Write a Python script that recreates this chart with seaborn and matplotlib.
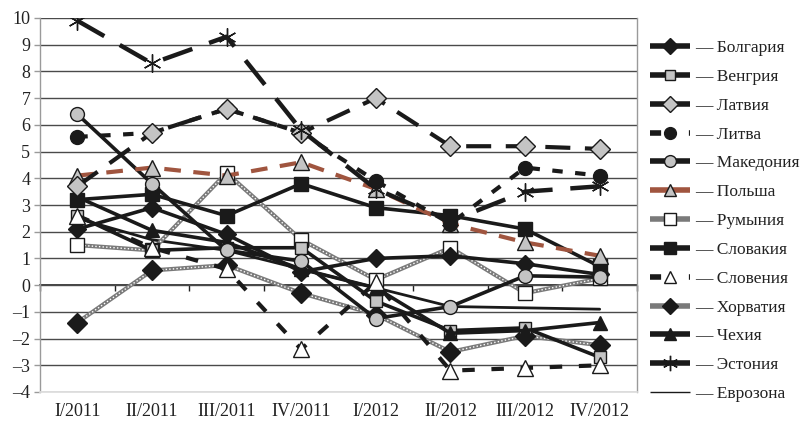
import matplotlib
matplotlib.use("Agg")
import matplotlib.pyplot as plt
import seaborn as sns
import pandas as pd
from matplotlib.lines import Line2D
from matplotlib.legend_handler import HandlerLine2D
from matplotlib.ticker import FuncFormatter

quarters = ["I/2011", "II/2011", "III/2011", "IV/2011", "I/2012", "II/2012", "III/2012", "IV/2012"]

bulgaria  = [2.1, 2.9, 1.9, 0.5, 1.0, 1.1, 0.8, 0.4]
hungary   = [2.6, 1.3, 1.4, 1.4, -0.6, -1.7, -1.6, -2.7]
latvia    = [3.7, 5.7, 6.6, 5.7, 7.0, 5.2, 5.2, 5.1]
lithuania = [5.55, 5.7, 6.6, 5.7, 3.9, 2.3, 4.4, 4.1]
macedonia = [6.4, 3.8, 1.3, 0.9, -1.25, -0.8, 0.35, 0.3]
poland    = [4.1, 4.4, 4.1, 4.6, 3.6, 2.3, 1.6, 1.1]
romania   = [1.5, 1.3, 4.2, 1.7, 0.2, 1.4, -0.3, 0.25]
slovakia  = [3.2, 3.4, 2.6, 3.8, 2.9, 2.6, 2.1, 0.7]
slovenia  = [2.6, 1.4, 0.6, -2.4, 0.1, -3.2, -3.1, -3.0]
croatia   = [-1.4, 0.55, 0.75, -0.3, -1.1, -2.5, -1.9, -2.25]
czech     = [3.3, 2.05, 1.6, 0.6, -0.1, -1.8, -1.7, -1.4]
estonia   = [9.9, 8.3, 9.3, 5.8, 3.6, 2.4, 3.5, 3.7]
eurozone  = [2.5, 1.7, 1.3, 0.6, -0.1, -0.8, -0.85, -0.9]

countries = ["Болгария", "Венгрия", "Латвия", "Литва", "Македония", "Польша", "Румыния",
             "Словакия", "Словения", "Хорватия", "Чехия", "Эстония", "Еврозона"]
values = [bulgaria, hungary, latvia, lithuania, macedonia, poland, romania,
          slovakia, slovenia, croatia, czech, estonia, eurozone]

BLK = "#1a1a1a"
GRY = "#c4c4c4"
BROWN = "#a0553f"
HATCH = "#7a7a7a"

styles = {
    "Болгария":  dict(color=BLK, lw=2.6, ls="-", marker="D", ms=9, mfc=BLK, hatch=False),
    "Венгрия":   dict(color=BLK, lw=2.6, ls="-", marker="s", ms=9, mfc=GRY, hatch=False),
    "Латвия":    dict(color=BLK, lw=3.0, ls=(0, (6, 3.5)), marker="D", ms=10, mfc=GRY, hatch=False),
    "Литва":     dict(color=BLK, lw=3.0, ls=(0, (2.5, 3)), marker="o", ms=10, mfc=BLK, hatch=False),
    "Македония": dict(color=BLK, lw=2.6, ls="-", marker="o", ms=10, mfc=GRY, hatch=False),
    "Польша":    dict(color=BROWN, lw=3.0, ls=(0, (4, 3)), marker="^", ms=11, mfc=GRY, hatch=False),
    "Румыния":   dict(color=HATCH, lw=3.0, ls="-", marker="s", ms=10, mfc="white", hatch=True),
    "Словакия":  dict(color=BLK, lw=2.6, ls="-", marker="s", ms=10, mfc=BLK, hatch=False),
    "Словения":  dict(color=BLK, lw=3.0, ls=(0, (3, 4)), marker="^", ms=11, mfc="white", hatch=False),
    "Хорватия":  dict(color=HATCH, lw=3.0, ls="-", marker="D", ms=10, mfc=BLK, hatch=True),
    "Чехия":     dict(color=BLK, lw=2.6, ls="-", marker="^", ms=10, mfc=BLK, hatch=False),
    "Эстония":   dict(color=BLK, lw=3.2, ls=(0, (7, 4)), marker=(6, 2, 0), ms=13, mfc=BLK, hatch=False),
    "Еврозона":  dict(color=BLK, lw=2.0, ls="-", marker=None, ms=0, mfc=BLK, hatch=False),
}

rows = []
for c, v in zip(countries, values):
    for q, val in zip(quarters, v):
        rows.append({"country": c, "quarter": q, "value": val})
df = pd.DataFrame(rows)

sns.set_theme(style="white")
plt.rcParams["font.family"] = ["Liberation Serif", "DejaVu Serif"]
plt.rcParams["axes.unicode_minus"] = False

fig = plt.figure(figsize=(8.06, 4.21), dpi=100)
ax = fig.add_axes([40 / 806, 1 - 392 / 421, (637 - 40) / 806, (392 - 18) / 421])

draw_order = ["Еврозона", "Румыния", "Хорватия", "Венгрия", "Словакия", "Чехия", "Болгария",
              "Македония", "Словения", "Польша", "Литва", "Латвия", "Эстония"]
for i, c in enumerate(draw_order):
    st = styles[c]
    d = df[df["country"] == c]
    z = 3 + i * 0.1
    if st["hatch"]:
        sns.lineplot(data=d, x="quarter", y="value", ax=ax, color=st["color"], lw=st["lw"],
                     linestyle="-", sort=False, zorder=z)
        sns.lineplot(data=d, x="quarter", y="value", ax=ax, color="white", lw=1.0,
                     linestyle=(0, (1, 1.6)), sort=False, zorder=z + 0.01)
        sns.lineplot(data=d, x="quarter", y="value", ax=ax, color=BLK, linestyle="",
                     marker=st["marker"], markersize=st["ms"], markerfacecolor=st["mfc"],
                     markeredgecolor=BLK, markeredgewidth=1.0, sort=False, zorder=z + 0.02)
    else:
        kw = {}
        if st["marker"] is not None:
            kw = dict(marker=st["marker"], markersize=st["ms"], markerfacecolor=st["mfc"],
                      markeredgecolor=BLK, markeredgewidth=1.0)
        sns.lineplot(data=d, x="quarter", y="value", ax=ax, color=st["color"], lw=st["lw"],
                     linestyle=st["ls"], sort=False, zorder=z, **kw)

ax.set_xlim(-0.5, 7.5)
ax.set_ylim(-4, 10)
ax.set_xlabel("")
ax.set_ylabel("")
ax.set_yticks(range(-4, 11))
ax.yaxis.set_major_formatter(FuncFormatter(lambda v, p: f"{int(v)}".replace("-", "–")))
ax.grid(axis="y", color="#4a4a4a", lw=1.0, zorder=1)
ax.grid(axis="x", visible=False)
for s in ["left", "right"]:
    ax.spines[s].set_color("#9a9a9a")
    ax.spines[s].set_linewidth(1.0)
ax.spines["top"].set_visible(False)
ax.spines["bottom"].set_color("#dddddd")
ax.tick_params(axis="y", left=True, length=4, width=1, color="#9a9a9a", pad=3,
               labelsize=13, labelcolor="#222222")
ax.tick_params(axis="x", bottom=False, length=0, pad=8, labelsize=13, labelcolor="#222222")

# zero line axis with category boundary ticks
sec = ax.secondary_xaxis(4 / 14)
sec.set_xticks([i - 0.5 for i in range(len(quarters) + 1)])
sec.set_xticklabels([])
sec.tick_params(axis="x", direction="out", length=4, width=1, color="#222222")
sec.spines["bottom"].set_color("#222222")
sec.spines["bottom"].set_linewidth(1.2)


class EndMarkerHandler(HandlerLine2D):
    def get_xdata(self, legend, xdescent, ydescent, width, height, fontsize):
        xdata = [-xdescent, -xdescent + width]
        return xdata, [-xdescent + width - 4]


handles = []
for c in countries:
    st = styles[c]
    lw = 1.0 if c == "Еврозона" else 4.0
    ls = "-"
    if c in ("Литва", "Словения"):
        ls = (0, (2, 5))
    h = Line2D([], [], color=st["color"], lw=lw, linestyle=ls,
               solid_capstyle="butt", dash_capstyle="butt",
               marker=st["marker"] if st["marker"] is not None else "",
               markersize=st["ms"] * 0.85, markerfacecolor=st["mfc"],
               markeredgecolor=BLK, markeredgewidth=1.0)
    handles.append(h)

labels = ["— " + c for c in countries]
fig.legend(handles, labels, loc="upper left", bbox_to_anchor=(650 / 806, 1 - 40 / 421),
           frameon=False, fontsize=12.5, handlelength=2.3, handletextpad=0.3,
           labelspacing=0.73, borderpad=0, borderaxespad=0,
           handler_map={Line2D: EndMarkerHandler()}, labelcolor="#222222")

fig.savefig("out.png", dpi=100, facecolor="white")
